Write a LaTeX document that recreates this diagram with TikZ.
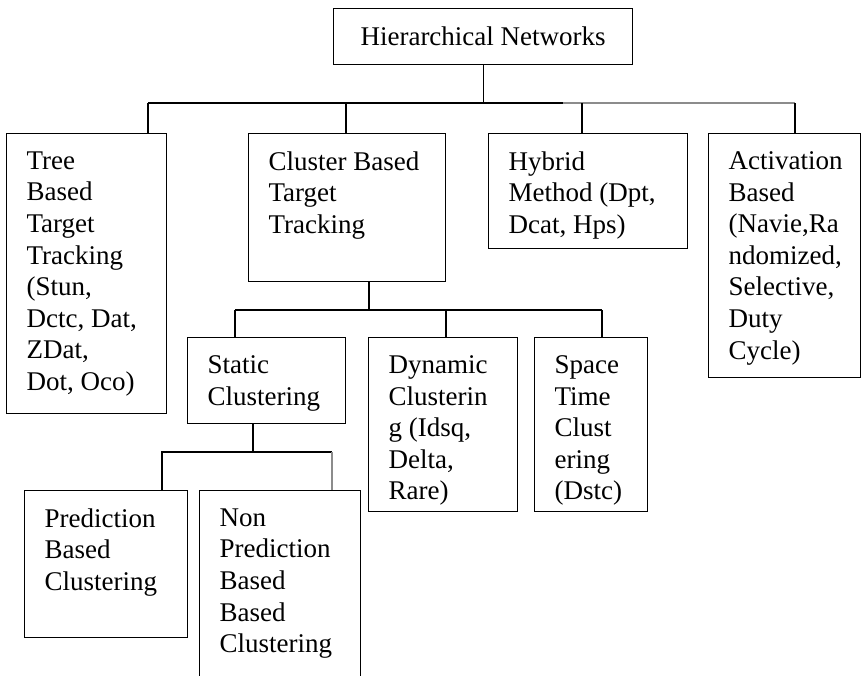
\documentclass[tikz,border=0pt]{standalone}
\usepackage{fontspec}
\setmainfont{Liberation Serif}
\usetikzlibrary{positioning,calc}

\newcommand{\boxtxt}[3]{\parbox[c][#2pt][t]{#1pt}{\raggedright #3}}

\begin{document}
\begin{tikzpicture}[x=1pt, y=-1pt,
		blk/.style={draw, line width=1.2pt, anchor=north west, inner xsep=20pt, inner ysep=18pt},
		head/.style={draw, line width=1.2pt, anchor=north west, minimum width=299pt, minimum height=56pt},
		wire/.style={line width=1.2pt},
		faint/.style={line width=1.2pt, draw=black!45},
		font=\fontsize{27}{31.6}\selectfont]
		\clip (0,0) rectangle (861,675);
		% top level
		\node[head] (root) at (333,8) {Hierarchical Networks};
		\node[blk] (tree) at (6,133) {\boxtxt{120}{244}{Tree\\Based\\Target\\Tracking\\(Stun,\\Dctc, Dat,\\ZDat,\\Dot, Oco)}};
		\node[blk] (cluster) at (248,133) {\boxtxt{157}{112}{Cluster Based\\Target\\Tracking}};
		\node[blk] (hybrid) at (488,133) {\boxtxt{159}{79}{Hybrid\\Method (Dpt,\\Dcat, Hps)}};
		\node[blk] (activ) at (708,133) {\boxtxt{112}{208}{Activation\\Based\\(Navie,Ra\\ndomized,\\Selective,\\Duty\\Cycle)}};
		% second level
		\node[blk] (static) at (187,337) {\boxtxt{118}{50}{Static\\Clustering}};
		\node[blk] (dynamic) at (368,337) {\boxtxt{109}{138}{Dynamic\\Clusterin\\g (Idsq,\\Delta,\\Rare)}};
		\node[blk] (space) at (534,337) {\boxtxt{73}{138}{Space\\Time\\Clust\\ering\\(Dstc)}};
		% third level
		\node[blk] (pred) at (24,490) {\boxtxt{123}{111}{Prediction\\Based\\Clustering}};
		\node[blk] (nonpred) at (199,490) {\boxtxt{121}{174}{Non\\Prediction\\Based\\Based\\Clustering}};
		% connectors
		\draw[wire] (root.south) -- (root.south |- 0,103);
		\draw[wire] (148,103) -- (563,103);
		\draw[faint] (563,103) -- (795,103);
		\foreach \x/\n in {148/tree, 346/cluster, 582/hybrid, 795/activ}
			\draw[wire] (\n.north -| \x,0) -- (\x,103);
		\draw[wire] (cluster.south -| 369,0) -- (369,310);
		\draw[wire] (235,310) -- (602,310);
		\foreach \x/\n in {235/static, 446/dynamic, 602/space}
			\draw[wire] (\n.north -| \x,0) -- (\x,310);
		\draw[wire] (static.south -| 253,0) -- (253,452);
		\draw[wire] (pred.north -| 162,0) |- (332,452);
		\draw[faint] (332,452) -- (nonpred.north -| 332,0);
	\end{tikzpicture}
\end{document}
